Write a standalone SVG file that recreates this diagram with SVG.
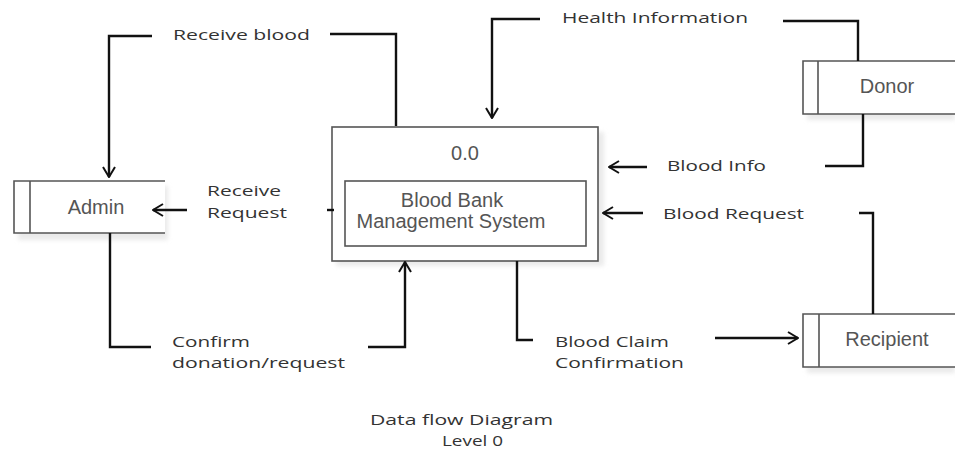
<svg xmlns="http://www.w3.org/2000/svg" width="955" height="454" viewBox="0 0 955 454">
<defs>
<marker id="arr" viewBox="0 0 12 14" refX="11" refY="7" markerWidth="12" markerHeight="14" markerUnits="userSpaceOnUse" orient="auto">
<path d="M1,1 L11,7 L1,13" fill="none" stroke="#111" stroke-width="2"/>
</marker>
<filter id="sh" x="-10%" y="-10%" width="130%" height="140%">
<feGaussianBlur stdDeviation="2"/>
</filter>
</defs>
<style>
.box{fill:#fff;stroke:#555;stroke-width:1.6}
.ln{fill:none;stroke:#555;stroke-width:1.6}
.node{font-family:"Liberation Sans",Arial,sans-serif;font-size:20px;fill:#555}
.lbl{font-family:"Open Sans","DejaVu Sans",sans-serif;font-size:15px;fill:#333}
.con{fill:none;stroke:#111;stroke-width:2.4}
.arw{marker-end:url(#arr)}
.shadow{fill:#ddd;filter:url(#sh);opacity:0.6}
</style>
<rect width="955" height="454" fill="#fff"/>

<g id="admin">
<rect class="shadow" x="18" y="186" width="150" height="54"/>
<rect x="14" y="181" width="151" height="52" fill="#fff"/>
<path class="ln" d="M165,181 H14 V233 H165 M30,181 V233"/>
<text class="node" x="96" y="214" text-anchor="middle">Admin</text>
</g>

<g id="process">
<rect class="shadow" x="336" y="132" width="268" height="134"/>
<rect class="box" x="332" y="127" width="266" height="134"/>
<text class="node" x="465" y="160" text-anchor="middle">0.0</text>
<rect class="box" x="345" y="181" width="241" height="65"/>
<text class="node" x="452" y="207" text-anchor="middle">Blood Bank</text>
<text class="node" x="451" y="228" text-anchor="middle">Management System</text>
</g>

<g id="donor">
<rect class="shadow" x="807" y="66" width="148" height="54"/>
<rect x="803" y="61" width="152" height="53" fill="#fff"/>
<path class="ln" d="M955,61 H803 V114 H955 M818,61 V114"/>
<text class="node" x="887" y="93" text-anchor="middle">Donor</text>
</g>

<g id="recipient">
<rect class="shadow" x="807" y="319" width="148" height="54"/>
<rect x="803" y="314" width="152" height="53" fill="#fff"/>
<path class="ln" d="M955,314 H803 V367 H955 M819,314 V367"/>
<text class="node" x="887" y="346" text-anchor="middle">Recipient</text>
</g>

<g id="connectors">
<!-- Receive blood -->
<path class="con arw" d="M152,36 H109 V177"/>
<path class="con" d="M330,34 H396 V126"/>
<!-- Health Information -->
<path class="con arw" d="M540,19 H492 V118"/>
<path class="con" d="M783,21 H858 V61"/>
<!-- Blood Info -->
<path class="con" d="M863,114 V166 H825"/>
<path class="con arw" d="M647,167 H609"/>
<!-- Blood Request -->
<path class="con" d="M873,314 V213 H859"/>
<path class="con arw" d="M643,213 H603"/>
<!-- Receive Request -->
<path class="con" d="M334,210 H327"/>
<path class="con arw" d="M187,210 H153"/>
<!-- Confirm donation/request -->
<path class="con" d="M110,233 V347 H151"/>
<path class="con arw" d="M368,347 H405 V262"/>
<!-- Blood Claim Confirmation -->
<path class="con" d="M517,261 V340 H533"/>
<path class="con arw" d="M715,338 H798"/>
</g>

<g id="labels">
<text class="lbl" x="173" y="40" textLength="137" lengthAdjust="spacingAndGlyphs">Receive blood</text>
<text class="lbl" x="562" y="23" textLength="186" lengthAdjust="spacingAndGlyphs">Health Information</text>
<text class="lbl" x="207" y="196" textLength="74" lengthAdjust="spacingAndGlyphs">Receive</text>
<text class="lbl" x="207" y="218" textLength="80" lengthAdjust="spacingAndGlyphs">Request</text>
<text class="lbl" x="667" y="171" textLength="99" lengthAdjust="spacingAndGlyphs">Blood Info</text>
<text class="lbl" x="663" y="219" textLength="141" lengthAdjust="spacingAndGlyphs">Blood Request</text>
<text class="lbl" x="172" y="347" textLength="78" lengthAdjust="spacingAndGlyphs">Confirm</text>
<text class="lbl" x="172" y="368" textLength="173" lengthAdjust="spacingAndGlyphs">donation/request</text>
<text class="lbl" x="555" y="347" textLength="114" lengthAdjust="spacingAndGlyphs">Blood Claim</text>
<text class="lbl" x="555" y="368" textLength="129" lengthAdjust="spacingAndGlyphs">Confirmation</text>
<text class="lbl" x="370" y="425" textLength="183" lengthAdjust="spacingAndGlyphs">Data flow Diagram</text>
<text class="lbl" x="442" y="446" textLength="61" lengthAdjust="spacingAndGlyphs">Level 0</text>
</g>
</svg>
